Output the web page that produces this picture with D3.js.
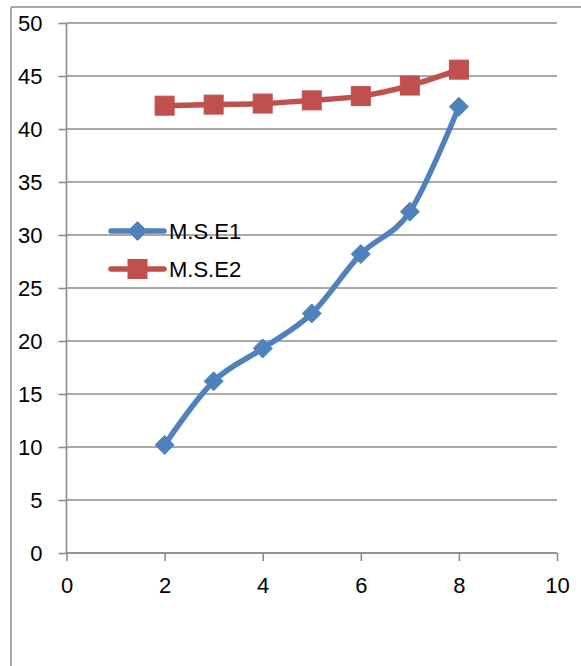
<!DOCTYPE html>
<html><head><meta charset="utf-8">
<script src="https://cdn.jsdelivr.net/npm/d3@7"></script>
<style>body{margin:0;background:#fff}svg{display:block}text{font-family:"Liberation Sans",Arial,sans-serif}</style>
</head><body>
<svg id="c" width="581" height="666"></svg>
<script>
const xValues = [2, 3, 4, 5, 6, 7, 8];
const mse1 = [10.2, 16.2, 19.3, 22.6, 28.2, 32.2, 42.1];
const mse2 = [42.2, 42.3, 42.4, 42.7, 43.1, 44.1, 45.6];
const seriesNames = ["M.S.E1", "M.S.E2"];
const xTicks = [0, 2, 4, 6, 8, 10];
const yTicks = [0, 5, 10, 15, 20, 25, 30, 35, 40, 45, 50];

const svg = d3.select("#c");
const x = d3.scaleLinear().domain([0, 10]).range([66.5, 557]);
const y = d3.scaleLinear().domain([0, 50]).range([553, 23]);
const gridColor = "#8c8c8c";

// outer frame (partially visible)
svg.append("line").attr("x1", 11).attr("x2", 11).attr("y1", 7).attr("y2", 666).attr("stroke", "#8c8c8c").attr("stroke-width", 1.5);
svg.append("line").attr("x1", 11).attr("x2", 581).attr("y1", 7).attr("y2", 7).attr("stroke", "#8c8c8c").attr("stroke-width", 1.5);

// gridlines
svg.append("g").selectAll("line").data(yTicks).join("line")
  .attr("x1", x(0)).attr("x2", x(10)).attr("y1", d => y(d)).attr("y2", d => y(d))
  .attr("stroke", gridColor).attr("stroke-width", 1.6);

// y axis
const yAxis = d3.axisLeft(y).tickValues(yTicks).tickSize(8).tickPadding(16);
const gy = svg.append("g").attr("transform", `translate(${x(0)},0)`).call(yAxis);
gy.select(".domain").attr("stroke", gridColor).attr("stroke-width", 1.6).attr("d", `M0,${y(0)}V${y(50)}`);
gy.selectAll(".tick line").attr("stroke", gridColor).attr("stroke-width", 1.6);
gy.selectAll(".tick text").attr("font-size", 22).attr("fill", "#000").attr("font-family", "Liberation Sans, Arial, sans-serif");

// x axis
const xAxis = d3.axisBottom(x).tickValues(xTicks).tickSize(8).tickPadding(16);
const gx = svg.append("g").attr("transform", `translate(0,${y(0)})`).call(xAxis);
gx.select(".domain").attr("stroke", gridColor).attr("stroke-width", 1.6).attr("d", `M${x(0)},0H${x(10)}`);
gx.selectAll(".tick line").attr("stroke", gridColor).attr("stroke-width", 1.6);
gx.selectAll(".tick text").attr("font-size", 22).attr("fill", "#000").attr("font-family", "Liberation Sans, Arial, sans-serif");

const line = d3.line().x(d => x(d[0])).y(d => y(d[1])).curve(d3.curveCardinal.tension(0));
const series = [
  {name: seriesNames[0], vals: mse1, color: "#4F81BD", marker: "diamond"},
  {name: seriesNames[1], vals: mse2, color: "#C0504D", marker: "square"}
];

function drawMarker(g, cx, cy, s) {
  if (s.marker === "diamond") {
    g.append("path").attr("d", `M${cx},${cy-9.5}L${cx+9.5},${cy}L${cx},${cy+9.5}L${cx-9.5},${cy}Z`)
      .attr("fill", s.color).attr("stroke", s.color).attr("stroke-width", 1);
  } else {
    g.append("rect").attr("x", cx - 9.5).attr("y", cy - 9.5).attr("width", 19).attr("height", 19)
      .attr("fill", s.color).attr("stroke", s.color).attr("stroke-width", 1);
  }
}

series.forEach(s => {
  const pts = xValues.map((v, i) => [v, s.vals[i]]);
  svg.append("path").datum(pts).attr("d", line).attr("fill", "none")
    .attr("stroke", s.color).attr("stroke-width", 5.5).attr("stroke-linecap", "round").attr("stroke-linejoin", "round");
  const g = svg.append("g");
  pts.forEach(p => drawMarker(g, x(p[0]), y(p[1]), s));
});

// legend
const legY = [231, 269];
series.forEach((s, i) => {
  const g = svg.append("g");
  g.append("line").attr("x1", 111).attr("x2", 164).attr("y1", legY[i]).attr("y2", legY[i])
    .attr("stroke", s.color).attr("stroke-width", 5.5).attr("stroke-linecap", "round");
  drawMarker(g, 137.5, legY[i], s);
  g.append("text").attr("x", 169).attr("y", legY[i]).attr("dy", "0.36em")
    .attr("font-size", 22).attr("fill", "#000").text(s.name);
});
</script>
</body></html>
